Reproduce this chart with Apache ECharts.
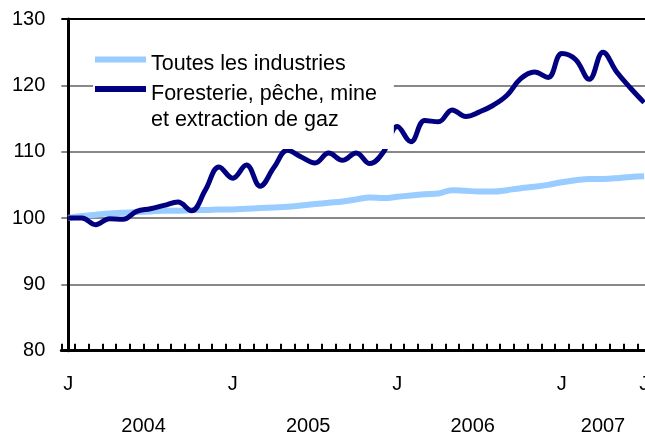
<!DOCTYPE html>
<html lang="fr">
<head>
<meta charset="UTF-8">
<title>Indices</title>
<script src="https://cdn.jsdelivr.net/npm/echarts@6.0.0/dist/echarts.min.js"></script>
<style>
  html, body { margin: 0; padding: 0; background: #fff; }
  #chart { width: 645px; height: 432px; }
</style>
</head>
<body>
<div id="chart"></div>
<script>
// mois, janvier 2004 a juillet 2007
const monthLetters = [
  'J', 'F', 'M', 'A', 'M', 'J', 'J', 'A', 'S', 'O', 'N', 'D',
  'J', 'F', 'M', 'A', 'M', 'J', 'J', 'A', 'S', 'O', 'N', 'D',
  'J', 'F', 'M', 'A', 'M', 'J', 'J', 'A', 'S', 'O', 'N', 'D',
  'J', 'F', 'M', 'A', 'M', 'J', 'J'
];
const labeledMonths = [0, 12, 24, 36, 42];
const yearLabels = ['2004', '2005', '2006', '2007'];
const yearCenters = [5.5, 17.5, 29.5, 39];

const allIndustries = [
  100.0, 100.3, 100.5, 100.7, 100.8, 100.9, 101.0, 101.1, 101.1, 101.2, 101.2, 101.3,
  101.3, 101.4, 101.5, 101.6, 101.7, 101.9, 102.1, 102.3, 102.5, 102.8, 103.1, 103.0,
  103.2, 103.4, 103.6, 103.7, 104.2, 104.1, 104.0, 104.0, 104.2, 104.5, 104.7, 105.0,
  105.4, 105.7, 105.9, 105.9, 106.0, 106.2, 106.3
];
const forestryMining = [
  100.0, 100.0, 99.0, 99.9, 99.8, 101.0, 101.4, 101.9, 102.4, 101.1, 104.2, 107.7,
  106.0, 108.0, 104.8, 107.6, 110.2, 109.2, 108.3, 109.8, 108.7, 109.8, 108.2, 110.0,
  113.8, 111.5, 114.7, 114.5, 116.3, 115.3, 116.0, 117.0, 118.5, 121.0, 122.0, 121.2,
  124.8, 123.9, 120.9, 125.0, 122.0, 119.6, 117.4
];

const nameAll = 'Toutes les industries';
const nameForest = 'Foresterie, pêche, mine';

const chart = echarts.init(document.getElementById('chart'));
const font = 'Liberation Sans, Arial, sans-serif';

chart.setOption({
  animation: false,
  grid: {
    left: 61.3, right: -6, top: 19, bottom: 81.3,
    outerBoundsMode: 'none'
  },
  legend: {
    orient: 'vertical',
    left: 93, top: 27,
    padding: [16.5, 17, 18, 2],
    backgroundColor: '#fff',
    itemWidth: 51, itemHeight: 6, itemGap: -25.5,
    icon: 'rect',
    selectedMode: false,
    textStyle: {
      fontFamily: font, fontSize: 21.5, color: '#000', lineHeight: 26,
      rich: { t: { fontFamily: font, fontSize: 21.5, lineHeight: 26, padding: [10, 0, 0, 0] } }
    },
    data: [nameAll, nameForest],
    formatter: function (name) {
      // ligne vide en tete : le symbole reste aligne sur la premiere ligne
      return name === nameForest
        ? '\n{t|' + name + '}\n{t|et extraction de gaz}'
        : '{t|' + name + '}';
    }
  },
  xAxis: [{
    type: 'category',
    data: monthLetters,
    boundaryGap: true,
    axisLine: { lineStyle: { color: '#000', width: 3 } },
    axisTick: {
      show: true, inside: true, length: 7, interval: 0, alignWithLabel: false,
      lineStyle: { color: '#000', width: 2 }
    },
    axisLabel: {
      interval: function (idx) { return labeledMonths.indexOf(idx) >= 0; },
      margin: 24, fontFamily: font, fontSize: 20, color: '#000'
    },
    splitLine: { show: false }
  }, {
    type: 'value',
    position: 'bottom',
    min: -0.5, max: 42.5,
    axisLine: { show: false },
    axisTick: { show: false },
    splitLine: { show: false },
    axisLabel: {
      customValues: yearCenters,
      formatter: function (v) { return yearLabels[yearCenters.indexOf(v)]; },
      margin: 66, fontFamily: font, fontSize: 20, color: '#000'
    }
  }],
  yAxis: {
    type: 'value',
    min: 80, max: 130, interval: 10,
    axisLine: { show: true, lineStyle: { color: '#000', width: 3 } },
    axisTick: { show: false },
    axisLabel: { margin: 16, fontFamily: font, fontSize: 20, color: '#000' },
    splitLine: { lineStyle: { color: ['#888', '#888', '#888', '#888', '#888', '#000'], width: 2 } }
  },
  series: [{
    name: nameAll,
    type: 'line',
    data: allIndustries,
    smooth: 0.4,
    symbol: 'none',
    color: '#99ccff',
    lineStyle: { width: 6, color: '#99ccff' }
  }, {
    name: nameForest,
    type: 'line',
    data: forestryMining,
    smooth: 0.4,
    symbol: 'none',
    color: '#000080',
    lineStyle: { width: 5, color: '#000080' }
  }]
});
</script>
</body>
</html>
